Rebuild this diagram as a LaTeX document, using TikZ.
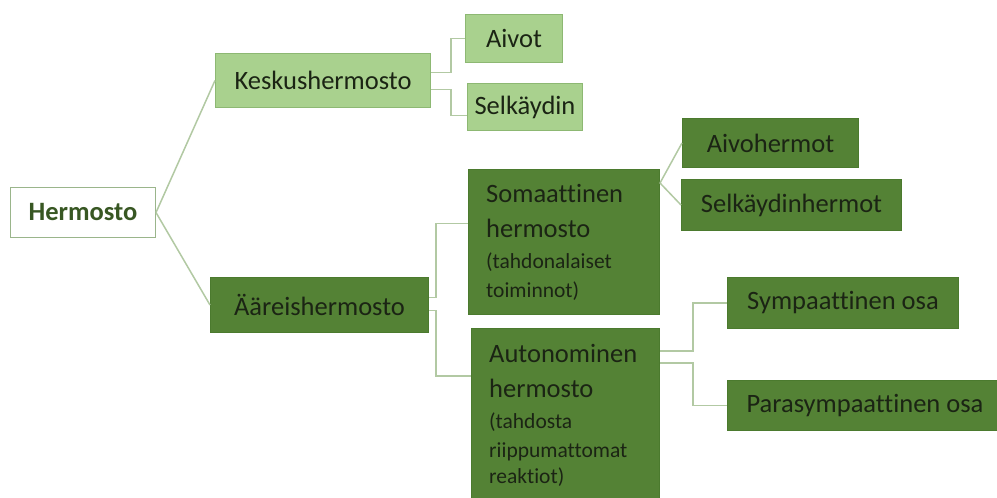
\documentclass[tikz,border=0pt]{standalone}
\usepackage{fontspec}
\setmainfont{Carlito}[Ligatures=NoCommon]
\definecolor{lgreen}{HTML}{A9D18E}
\definecolor{lborder}{HTML}{8DB873}
\definecolor{dgreen}{HTML}{548235}
\definecolor{dborder}{HTML}{4B7A2E}
\definecolor{lineclr}{HTML}{B2C9A3}
\definecolor{txt}{HTML}{1B2414}
\definecolor{hborder}{HTML}{9AB58B}
\definecolor{htxt}{HTML}{385723}
\begin{document}
\begin{tikzpicture}[x=1pt,y=-1pt,
  box/.style={draw, line width=1pt, inner sep=0pt, anchor=north west, font=\fontsize{26.5}{30}\selectfont, text=txt},
  light/.style={box, fill=lgreen, draw=lborder},
  dark/.style={box, fill=dgreen, draw=dborder},
  rootbox/.style={box, fill=white, draw=hborder, text=htxt, font=\fontsize{26.5}{30}\selectfont\bfseries},
  conn/.style={draw=lineclr, line width=1.5pt},
  bigtxt/.style={font=\fontsize{26.5}{30}\selectfont, anchor=base west, inner sep=0pt, text=txt},
  smalltxt/.style={font=\fontsize{21.5}{25}\selectfont, anchor=base west, inner sep=0pt, text=txt}]
\useasboundingbox (0,0) rectangle (997,498);
\fill[white] (0,0) rectangle (997,498);

% nodes
\node[rootbox, minimum width=145pt, minimum height=50pt] (herm) at (10,187) {Hermosto};
\node[light, minimum width=215pt, minimum height=54pt] (kesk) at (215,53) {Keskushermosto};
\node[light, minimum width=97pt, minimum height=48pt] (aivot) at (465,14) {Aivot};
\node[light, minimum width=115pt, minimum height=47pt] (selk) at (467,83) {Selkäydin};
\node[dark, minimum width=218pt, minimum height=55pt] (aar) at (210,277) {Ääreishermosto};
\node[dark, minimum width=191pt, minimum height=145pt] (som) at (468,169) {};
\node[dark, minimum width=188pt, minimum height=175pt] (aut) at (471,328) {};
\node[dark, minimum width=176pt, minimum height=49pt] (aivoh) at (682,118) {Aivohermot};
\node[dark, minimum width=220pt, minimum height=51pt] (selkh) at (681,179) {Selkäydinhermot};
\node[dark, minimum width=231pt, minimum height=51pt] (symp) at (727,277) {Sympaattinen osa};
\node[dark, minimum width=275pt, minimum height=50pt] (para) at (727,380) {Parasympaattinen osa};

% text in the large boxes
\node[bigtxt] (som1) at (486,202) {Somaattinen};
\node[bigtxt] (som2) at (486,237) {hermosto};
\node[smalltxt] (som3) at (486,268) {(tahdonalaiset};
\node[smalltxt] (som4) at (486,297) {toiminnot)};
\node[bigtxt] (aut1) at (489,362) {Autonominen};
\node[bigtxt] (aut2) at (489,397) {hermosto};
\node[smalltxt] (aut3) at (489,428) {(tahdosta};
\node[smalltxt] (aut4) at (489,457) {riippumattomat};
\node[smalltxt] (aut5) at (489,483) {reaktiot)};

% connectors
\draw[conn] (herm.east) -- (kesk.west);
\draw[conn] (herm.east) -- (aar.west);
\draw[conn] ([yshift=8pt]kesk.east) -- ++(20,0) |- (aivot.west);
\draw[conn] ([yshift=-9pt]kesk.east) -- ++(20,0) |- ([yshift=-8.5pt]selk.west);
\draw[conn] ([yshift=7.5pt]aar.east) -- ++(7,0) |- ([yshift=18.5pt]som.west);
\draw[conn] ([yshift=-5.5pt]aar.east) -- ++(7,0) |- ([yshift=-48pt]aut.north west);
\draw[conn] ([yshift=-14pt]som.north east) -- (aivoh.west);
\draw[conn] ([yshift=-14pt]som.north east) -- (selkh.west);
\draw[conn] ([yshift=-23pt]aut.north east) -- ++(33,0) |- (symp.west);
\draw[conn] ([yshift=-35pt]aut.north east) -- ++(33,0) |- (para.west);
\end{tikzpicture}
\end{document}
